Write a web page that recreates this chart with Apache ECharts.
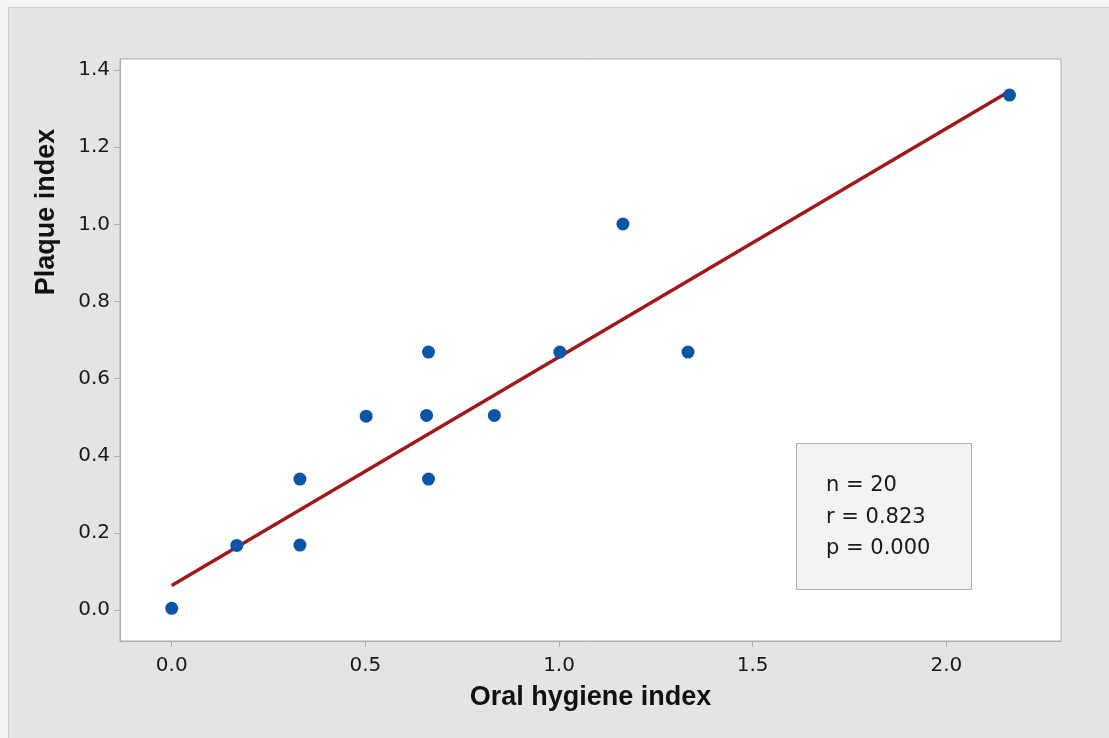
<!DOCTYPE html>
<html>
<head>
<meta charset="utf-8">
<script src="https://cdn.jsdelivr.net/npm/echarts@6/dist/echarts.min.js"></script>
<style>
  html, body { margin: 0; padding: 0; background: #f3f3f3; width: 1109px; height: 738px; overflow: hidden; }
  #frame { position: absolute; left: 8px; top: 7px; width: 1101px; height: 731px; background: #e4e4e4;
           border-left: 1px solid #cdcdcd; border-top: 1px solid #cdcdcd; box-sizing: border-box; }
  #chart { position: absolute; left: 0; top: 0; width: 1109px; height: 738px; }
</style>
</head>
<body>
<div id="frame"></div>
<div id="chart"></div>
<script>
// Observed data (Oral hygiene index, Plaque index)
const oralHygiene = [0.000, 0.168, 0.331, 0.331, 0.502, 0.658, 0.663, 0.663, 0.833, 1.002, 1.165, 1.333, 2.163];
const plaqueIndex = [0.005, 0.168, 0.340, 0.169, 0.503, 0.505, 0.669, 0.340, 0.505, 0.669, 1.001, 0.669, 1.335];
// Fitted regression line end points
const fitX = [0.000, 2.163];
const fitY = [0.064, 1.345];
// Tick labels
const xTicks = [0.0, 0.5, 1.0, 1.5, 2.0];
const yTicks = [0.0, 0.2, 0.4, 0.6, 0.8, 1.0, 1.2, 1.4];
// Stats box text
const statsLines = ['n = 20', 'r = 0.823', 'p = 0.000'];

const chart = echarts.init(document.getElementById('chart'), null, { renderer: 'canvas' });

const tickFont = { fontFamily: 'DejaVu Sans', fontSize: 20, color: '#1a1a1a' };
const axisGray = '#adadad';

chart.setOption({
  backgroundColor: 'transparent',
  animation: false,
  grid: {
    show: true, left: 120, right: 48, top: 59, bottom: 97,
    backgroundColor: '#ffffff', borderColor: axisGray, borderWidth: 1
  },
  xAxis: {
    type: 'value', min: -0.1335, max: 2.296,
    name: 'Oral hygiene index', nameLocation: 'middle', nameGap: 43,
    nameTextStyle: { fontFamily: 'Liberation Sans', fontWeight: 'bold', fontSize: 27, color: '#111' },
    axisLine: { show: true, onZero: false, lineStyle: { color: axisGray, width: 1 } },
    axisTick: { show: true, inside: false, length: 6, lineStyle: { color: axisGray }, customValues: xTicks },
    axisLabel: Object.assign({ margin: 15, customValues: xTicks, formatter: v => Number(v).toFixed(1) }, tickFont),
    splitLine: { show: false }
  },
  yAxis: {
    type: 'value', min: -0.0796, max: 1.4286,
    axisLine: { show: true, onZero: false, lineStyle: { color: axisGray, width: 1 } },
    axisTick: { show: true, inside: false, length: 6, lineStyle: { color: axisGray }, customValues: yTicks },
    axisLabel: Object.assign({ margin: 10, customValues: yTicks, formatter: v => Number(v).toFixed(1) }, tickFont),
    splitLine: { show: false }
  },
  series: [
    {
      type: 'line',
      data: fitX.map((x, i) => [x, fitY[i]]),
      symbol: 'none',
      lineStyle: { color: '#a0191d', width: 3.5 },
      z: 2
    },
    {
      type: 'scatter',
      data: oralHygiene.map((x, i) => [x, plaqueIndex[i]]),
      symbol: 'circle', symbolSize: 13,
      itemStyle: { color: '#0a55a6', opacity: 1 },
      z: 3
    }
  ],
  graphic: [
    {
      type: 'text',
      x: 47, y: 212, rotation: Math.PI / 2,
      style: {
        text: 'Plaque index', x: 0, y: 0,
        fontFamily: 'Liberation Sans', fontWeight: 'bold', fontSize: 27, fill: '#111',
        align: 'center', verticalAlign: 'middle'
      }
    },
    {
      type: 'group', x: 796, y: 443,
      children: [
        {
          type: 'rect', shape: { x: 0.5, y: 0.5, width: 175, height: 146 },
          style: { fill: '#f3f3f3', stroke: '#adadad', lineWidth: 1 }
        }
      ].concat(statsLines.map((t, i) => ({
        type: 'text', x: 30, y: 43 + i * 31.5,
        style: {
          text: t, fontFamily: 'DejaVu Sans', fontSize: 21, fill: '#1a1a1a',
          align: 'left', verticalAlign: 'middle'
        }
      })))
    }
  ]
});
</script>
</body>
</html>
